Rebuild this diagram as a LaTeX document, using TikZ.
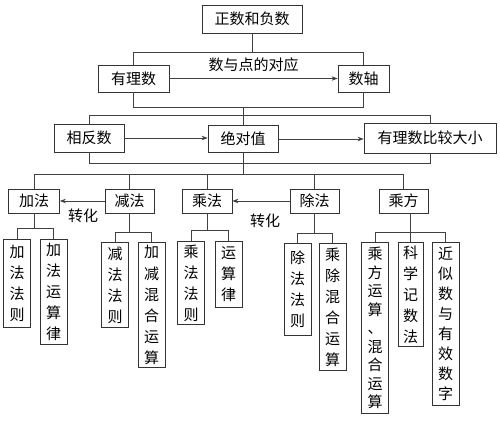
\documentclass[tikz,border=0pt]{standalone}
\usepackage{fontspec}
\newfontfamily\cjk{Noto Sans CJK SC}
\usetikzlibrary{arrows.meta}
\begin{document}
\begin{tikzpicture}[x=1pt,y=-1pt,
 box/.style={draw=black!80,line width=0.8pt,inner sep=0pt,font=\cjk\fontsize{15}{15}\selectfont},
 vbox/.style={draw=black!80,line width=0.8pt,inner sep=0pt,anchor=north,minimum width=27pt,align=center,font=\cjk\fontsize{15}{21}\selectfont},
 conn/.style={draw=black!75,line width=0.7pt},
 arr/.style={conn,-{Stealth[length=6pt,width=4.5pt]}},
 lbl/.style={font=\cjk\fontsize{15}{15}\selectfont,inner sep=0pt}]
\path[use as bounding box] (0,0) rectangle (500,420);
% levels
\coordinate (h1) at (0,52);
\coordinate (h2) at (0,107);
\coordinate (h3) at (0,115);
\coordinate (h4) at (0,163);
\coordinate (h5) at (0,174);
% top
\node[box,minimum width=100pt,minimum height=28pt] (top) at (252,19) {正数和负数};
\node[box,minimum width=71pt,minimum height=27pt] (ylq) at (133.5,78.5) {有理数};
\node[box,minimum width=51pt,minimum height=27pt] (axis) at (363.5,78.5) {数轴};
\node[box,minimum width=70pt,minimum height=28pt] (xfs) at (89,138) {相反数};
\node[box,minimum width=70pt,minimum height=27pt] (jdz) at (243,139) {绝对值};
\node[box,minimum width=132pt,minimum height=30pt] (bj) at (430,138) {有理数比较大小};
% row 4
\node[box,minimum width=51pt,minimum height=24pt] (add) at (34,201) {加法};
\node[box,minimum width=49pt,minimum height=24pt] (sub) at (129.5,201) {减法};
\node[box,minimum width=50pt,minimum height=24pt] (mul) at (207,201) {乘法};
\node[box,minimum width=49pt,minimum height=24pt] (div) at (314.5,201) {除法};
\node[box,minimum width=49pt,minimum height=24pt] (pow) at (403.5,201) {乘方};
% row 5
\node[vbox,minimum height=88pt] (a1) at (17,239) {加\\法\\法\\则};
\node[vbox,minimum height=105pt] (a2) at (53.5,239) {加\\法\\运\\算\\律};
\node[vbox,minimum height=85pt] (s1) at (115,242) {减\\法\\法\\则};
\node[vbox,minimum height=125pt] (s2) at (151.5,242) {加\\减\\混\\合\\运\\算};
\node[vbox,minimum height=83pt] (m1) at (191,241) {乘\\法\\法\\则};
\node[vbox,minimum height=66pt] (m2) at (228.5,241) {运\\算\\律};
\node[vbox,minimum height=92pt] (d1) at (297.5,243) {除\\法\\法\\则};
\node[vbox,minimum height=127pt] (d2) at (332.5,243) {乘\\除\\混\\合\\运\\算};
\node[vbox,minimum height=171pt,font=\cjk\fontsize{15}{18.5}\selectfont] (p1) at (375,242) {乘\\方\\运\\算\\、\\混\\合\\运\\算};
\node[vbox,minimum height=104pt,minimum width=25pt] (p2) at (410.5,242) {科\\学\\记\\数\\法};
\node[vbox,minimum height=163pt,font=\cjk\fontsize{15}{20}\selectfont] (p3) at (445.5,242) {近\\似\\数\\与\\有\\效\\数\\字};
% connectors top
\draw[conn] (top.south) -- (top.south |- h1);
\draw[conn] (ylq.north) -- (ylq.north |- h1) -- (axis.north |- h1) -- (axis.north);
\draw[arr] (ylq.east) -- (axis.west) node[lbl,midway,above=6pt] {数与点的对应};
\draw[conn] (ylq.south) -- (ylq.south |- h2) -- (axis.south |- h2) -- (axis.south);
\draw[conn] (jdz.north |- h2) -- (jdz.north |- h3);
\draw[conn] (xfs.north) -- (xfs.north |- h3) -- (bj.north |- h3) -- (bj.north);
\draw[conn] (jdz.north |- h3) -- (jdz.north);
\draw[arr] (xfs.east) -- (jdz.west |- xfs.east);
\draw[arr] (jdz.east) -- (bj.west |- jdz.east);
\draw[conn] (xfs.south) -- (xfs.south |- h4) -- (bj.south |- h4) -- (bj.south);
\draw[conn] (jdz.south) -- (jdz.south |- h5);
\draw[conn] (add.north) -- (add.north |- h5) -- (pow.north |- h5) -- (pow.north);
\draw[conn] (sub.north) -- (sub.north |- h5);
\draw[conn] (mul.north) -- (mul.north |- h5);
\draw[conn] (div.north) -- (div.north |- h5);
\draw[arr] (sub.west) -- (add.east);
\draw[arr] (div.west) -- (mul.east);
\node[lbl] (zh1) at (83,216) {转化};
\node[lbl] (zh2) at (265,221) {转化};
% row 5 connectors
\coordinate (ka) at (0,228);
\coordinate (ks) at (0,232);
\coordinate (km) at (0,230);
\coordinate (kd) at (0,233);
\coordinate (kp) at (0,232);
\draw[conn] (add.south) -- (add.south |- ka);
\draw[conn] (a1.north) -- (a1.north |- ka) -- (a2.north |- ka) -- (a2.north);
\draw[conn] (sub.south) -- (sub.south |- ks);
\draw[conn] (s1.north) -- (s1.north |- ks) -- (s2.north |- ks) -- (s2.north);
\draw[conn] (mul.south) -- (mul.south |- km);
\draw[conn] (m1.north) -- (m1.north |- km) -- (m2.north |- km) -- (m2.north);
\draw[conn] (div.south) -- (div.south |- kd);
\draw[conn] (d1.north) -- (d1.north |- kd) -- (d2.north |- kd) -- (d2.north);
\draw[conn] (pow.south -| p2.north) -- (p2.north);
\draw[conn] (p1.north) -- (p1.north |- kp) -- (p3.north |- kp) -- (p3.north);
\end{tikzpicture}
\end{document}
